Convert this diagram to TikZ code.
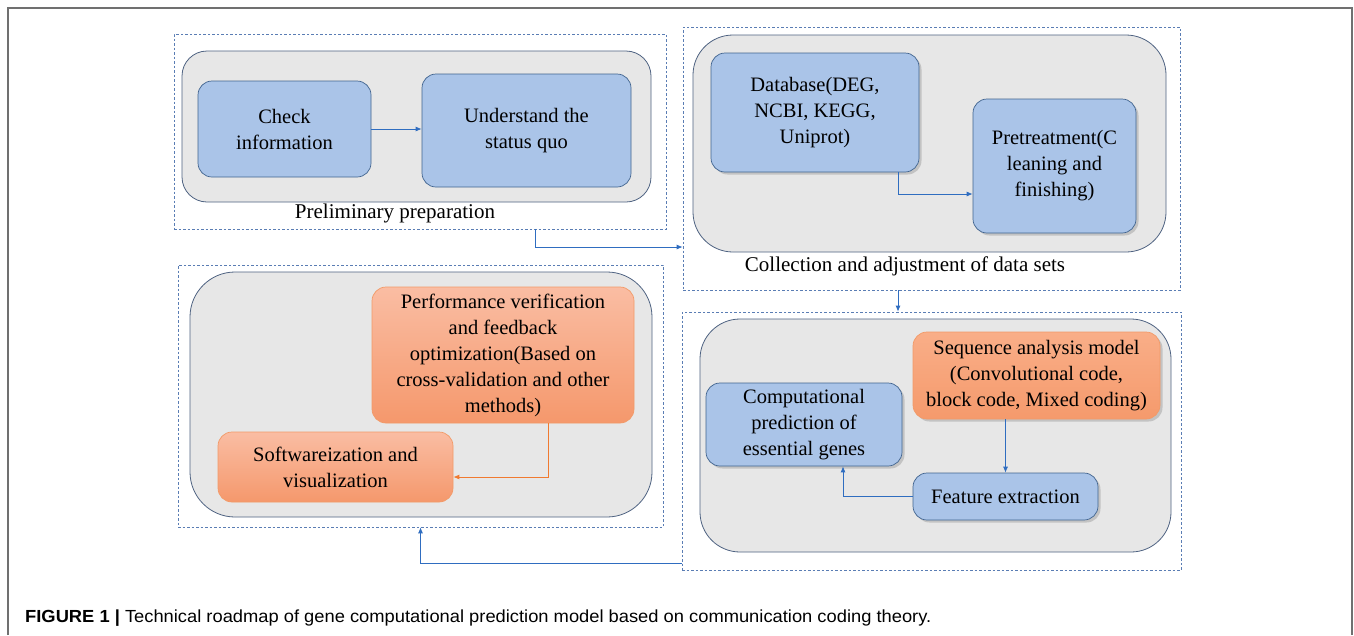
\documentclass[tikz,border=0pt]{standalone}
\usepackage{fontspec}
\setmainfont{Liberation Serif}
\newfontfamily\capfont{Liberation Sans}
\usetikzlibrary{arrows.meta,shadows,calc}
\definecolor{panelgray}{HTML}{E7E7E7}
\definecolor{panelborder}{HTML}{4F6382}
\definecolor{boxblue}{HTML}{AAC4E8}
\definecolor{boxblueborder}{HTML}{41648F}
\definecolor{orangetop}{HTML}{FABDA3}
\definecolor{orangebot}{HTML}{F5986C}
\definecolor{seqtop}{HTML}{F9AE88}
\definecolor{seqbot}{HTML}{F59A6C}
\definecolor{orangeborder}{HTML}{F29A68}
\definecolor{dashblue}{HTML}{5A7DB4}
\definecolor{arrowblue}{HTML}{2F6DC0}
\definecolor{arroworange}{HTML}{F07A30}
\definecolor{framegray}{HTML}{707070}
\tikzset{
  dashbox/.style={draw=dashblue, line width=0.7pt, dash pattern=on 2.5pt off 2pt},
  panel/.style={fill=panelgray, draw=panelborder, line width=0.8pt, rounded corners=#1},
  boxtext/.style={align=center, font=\rmfamily\fontsize{20.5}{26}\selectfont, inner sep=0pt},
  bluebox/.style={boxtext, fill=boxblue, draw=boxblueborder, line width=0.7pt, rounded corners=14pt},
  blueshadow/.style={bluebox, drop shadow={opacity=0.35, shadow xshift=2.5pt, shadow yshift=-2.5pt}},
  orangebox/.style={boxtext, top color=orangetop, bottom color=orangebot, draw=orangeborder, line width=0.7pt, rounded corners=14pt},
  arr/.style={draw=arrowblue, line width=0.8pt, -{Latex[length=6pt,width=5pt]}},
  oarr/.style={draw=arroworange, line width=0.8pt, -{Latex[length=6pt,width=5pt]}},
  lbl/.style={font=\rmfamily\fontsize{21}{26}\selectfont, inner sep=0pt}
}
\begin{document}
\begin{tikzpicture}[x=1pt,y=-1pt]
\useasboundingbox (0,0) rectangle (1354,635);
\fill[white] (0,0) rectangle (1354,635);
% outer frame
\draw[framegray, line width=1.2pt] (8,635) -- (8,8) -- (1352,8) -- (1352,635);

% Panel 1
\node[dashbox, minimum width=492pt, minimum height=195pt] (p1d) at (420,131.5) {};
\node[panel=25pt, minimum width=469pt, minimum height=151pt] (p1g) at (416.5,126.5) {};
\node[bluebox, minimum width=173pt, minimum height=96pt] (check) at (284.5,129) {Check\\information};
\node[bluebox, minimum width=209pt, minimum height=113pt] (under) at (526.5,130.5) {Understand the\\status quo};
\node[lbl] (l1) at (395,213) {Preliminary preparation};

% Panel 2
\node[dashbox, minimum width=497pt, minimum height=263pt] (p2d) at (931.5,158.5) {};
\node[panel=40pt, minimum width=473pt, minimum height=217pt] (p2g) at (929.5,143.5) {};
\node[blueshadow, minimum width=208pt, minimum height=119pt] (db) at (815,112.5) {Database(DEG,\\NCBI, KEGG,\\Uniprot)};
\node[blueshadow, minimum width=163pt, minimum height=134pt] (pre) at (1054.5,166) {Pretreatment(C\\leaning and\\finishing)};
\node[lbl] (l2) at (905,266) {Collection and adjustment of data sets};

% Panel 3
\node[dashbox, minimum width=499pt, minimum height=258pt] (p3d) at (931.5,441) {};
\node[panel=40pt, minimum width=471pt, minimum height=233pt] (p3g) at (935.5,435.5) {};
\node[orangebox, top color=seqtop, bottom color=seqbot, drop shadow={opacity=0.35, shadow xshift=2.5pt, shadow yshift=-2.5pt}, minimum width=247pt, minimum height=87pt] (seq) at (1036.5,375.5) {Sequence analysis model\\(Convolutional code,\\block code, Mixed coding)};
\node[blueshadow, minimum width=196pt, minimum height=83pt] (comp) at (804,424.5) {Computational\\prediction of\\essential genes};
\node[blueshadow, minimum width=185pt, minimum height=47pt] (feat) at (1005.5,496.5) {Feature extraction};

% Panel 4
\node[dashbox, minimum width=485pt, minimum height=262pt] (p4d) at (420.5,396) {};
\node[panel=45pt, minimum width=462pt, minimum height=245pt] (p4g) at (421,394.5) {};
\node[orangebox, minimum width=262pt, minimum height=136pt] (perf) at (503,355) {Performance verification\\and feedback\\optimization(Based on\\cross-validation and other\\methods)};
\node[orangebox, minimum width=235pt, minimum height=70pt] (soft) at (335.5,467) {Softwareization and\\visualization};

% connectors
\draw[arr] (check.east) -- (check.east -| under.west);
\draw[arr] ([xshift=83pt]db.south) |- ([yshift=-28pt]pre.west);
\draw[arr] ([xshift=115pt]p1d.south) |- ([yshift=-88.5pt]p2d.west);
\draw[arr] ([xshift=-33.5pt]p2d.south) -- ([xshift=-33.5pt]p3d.north);
\draw[arr] (feat.north |- seq.south) -- (feat.north);
\draw[arr] (feat.west) -| ([xshift=39pt]comp.south);
\draw[oarr] ([xshift=45pt]perf.south) |- ([yshift=-10pt]soft.east);
\draw[arr] ([yshift=-122pt]p3d.west) -| (p4d.south);

% caption
\node[anchor=base west, inner sep=0pt, xscale=1.047, font=\capfont\fontsize{17.5}{20}\selectfont] (cap) at (25,622) {\textbf{FIGURE 1 |} Technical roadmap of gene computational prediction model based on communication coding theory.};
\end{tikzpicture}
\end{document}
